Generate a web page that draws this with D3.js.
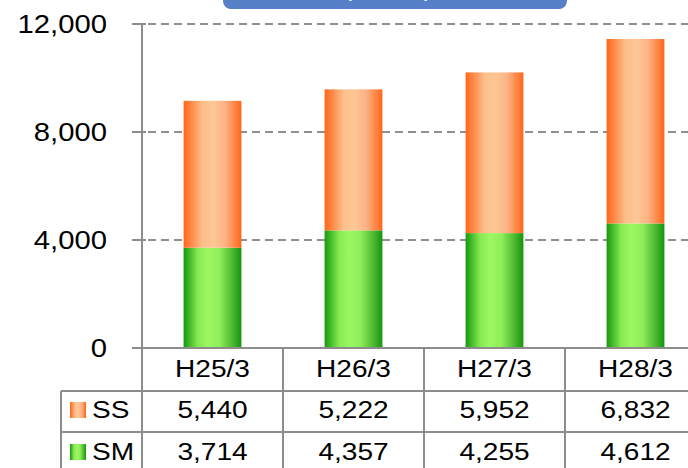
<!DOCTYPE html>
<html>
<head>
<meta charset="utf-8">
<script src="https://cdn.jsdelivr.net/npm/d3@7"></script>
<style>
  body { margin: 0; background: #fff; overflow: hidden; }
  text { font-family: "Liberation Sans", Arial, sans-serif; fill: #000; }
</style>
</head>
<body>
<script>
var categories = ["H25/3", "H26/3", "H27/3", "H28/3"];
var ssValues = [5440, 5222, 5952, 6832];
var smValues = [3714, 4357, 4255, 4612];
var yTicks = [0, 4000, 8000, 12000];
var seriesNames = ["SS", "SM"];
var titleText = "(百万円)";

var w = 688, h = 468;
var fmt = d3.format(",");
var sx = 1.17; // text in the original is stretched sideways

var svg = d3.select('body')
  .append('svg')
  .attr('width', w)
  .attr('height', h);

var defs = svg.append('defs');

// bar gradients, dark edges and light middle
var orange = defs.append('linearGradient').attr('id', 'gOrange')
  .attr('x1', '0%').attr('x2', '100%').attr('y1', '0%').attr('y2', '0%');
[[0, '#ff661a'], [0.33, '#fcbf8c'], [0.52, '#fdc795'], [0.72, '#fcb284'], [1, '#ff661a']]
  .forEach(s => orange.append('stop').attr('offset', s[0]).attr('stop-color', s[1]));

var green = defs.append('linearGradient').attr('id', 'gGreen')
  .attr('x1', '0%').attr('x2', '100%').attr('y1', '0%').attr('y2', '0%');
[[0, '#14980f'], [0.25, '#86ea52'], [0.42, '#9bf762'], [0.62, '#90ee5a'], [0.85, '#4cb730'], [1, '#12960e']]
  .forEach(s => green.append('stop').attr('offset', s[0]).attr('stop-color', s[1]));

var xScale = d3.scaleBand()
  .domain(categories)
  .range([142, 706]);

var yScale = d3.scaleLinear()
  .domain([0, 12000])
  .range([348, 24]);

var barW = xScale.bandwidth() * 0.41;

// title box, mostly off the top of the picture
svg.append('rect')
  .attr('x', 223).attr('y', -30)
  .attr('width', 344).attr('height', 39)
  .attr('rx', 8)
  .attr('fill', '#5580c8');
svg.append('text')
  .attr('x', 388).attr('y', -4)
  .attr('text-anchor', 'middle')
  .style('font-size', '24px')
  .style('fill', '#fff')
  .text(titleText);

// gridlines
svg.append('g')
  .selectAll('line')
  .data(yTicks.filter(d => d > 0))
  .enter()
  .append('line')
    .attr('x1', 148).attr('x2', w)
    .attr('y1', d => yScale(d)).attr('y2', d => yScale(d))
    .attr('stroke', '#8f8f8f')
    .attr('stroke-width', 2)
    .attr('stroke-dasharray', '8,5');

// stacked bars
var stack = categories.map((c, i) => ({cat: c, sm: smValues[i], ss: ssValues[i]}));

svg.append('g')
  .selectAll('rect')
  .data(stack)
  .enter()
  .append('rect')
    .attr('x', d => xScale(d.cat) + (xScale.bandwidth() - barW) / 2)
    .attr('y', d => yScale(d.sm))
    .attr('width', barW)
    .attr('height', d => yScale(0) - yScale(d.sm))
    .attr('fill', 'url(#gGreen)');

svg.append('g')
  .selectAll('rect')
  .data(stack)
  .enter()
  .append('rect')
    .attr('x', d => xScale(d.cat) + (xScale.bandwidth() - barW) / 2)
    .attr('y', d => yScale(d.sm + d.ss))
    .attr('width', barW)
    .attr('height', d => yScale(d.sm) - yScale(d.sm + d.ss))
    .attr('fill', 'url(#gOrange)');

// y axis
var lineColor = '#8c8c8c';
svg.append('line')
  .attr('x1', 142).attr('x2', 142)
  .attr('y1', yScale(12000)).attr('y2', h)
  .attr('stroke', lineColor).attr('stroke-width', 2);

svg.append('g')
  .selectAll('line')
  .data(yTicks)
  .enter()
  .append('line')
    .attr('x1', 132).attr('x2', 146)
    .attr('y1', d => yScale(d)).attr('y2', d => yScale(d))
    .attr('stroke', lineColor).attr('stroke-width', 2);

svg.append('g')
  .selectAll('text')
  .data(yTicks)
  .enter()
  .append('text')
    .attr('text-anchor', 'end')
    .attr('transform', d => `translate(107, ${yScale(d) + 9}) scale(${sx},1)`)
    .style('font-size', '25px')
    .text(d => fmt(d));

// data table below the axis
var rowTop = [348, 391, 432, 474];
var table = svg.append('g');

table.append('line')
  .attr('x1', 142).attr('x2', w)
  .attr('y1', rowTop[0]).attr('y2', rowTop[0])
  .attr('stroke', lineColor).attr('stroke-width', 2);

[rowTop[1], rowTop[2]].forEach(y => {
  table.append('line')
    .attr('x1', 61).attr('x2', w)
    .attr('y1', y).attr('y2', y)
    .attr('stroke', lineColor).attr('stroke-width', 2);
});

table.append('line')
  .attr('x1', 61).attr('x2', 61)
  .attr('y1', rowTop[1]).attr('y2', h)
  .attr('stroke', lineColor).attr('stroke-width', 2);

table.selectAll('.vline')
  .data(categories.slice(1))
  .enter()
  .append('line')
    .attr('class', 'vline')
    .attr('x1', d => xScale(d)).attr('x2', d => xScale(d))
    .attr('y1', rowTop[0]).attr('y2', h)
    .attr('stroke', lineColor).attr('stroke-width', 2);

var cellText = (row, vals, baseline) => {
  table.selectAll('.t' + row)
    .data(vals)
    .enter()
    .append('text')
      .attr('class', 't' + row)
      .attr('text-anchor', 'middle')
      .attr('transform', (d, i) => `translate(${xScale(categories[i]) + xScale.bandwidth() / 2}, ${baseline}) scale(${sx},1)`)
      .style('font-size', '24px')
      .text(d => d);
};

cellText('h', categories, 377);
cellText('ss', ssValues.map(fmt), 418);
cellText('sm', smValues.map(fmt), 460);

// row legends
var legendRows = [
  {name: seriesNames[0], fill: 'url(#gOrange)', top: 402, base: 418},
  {name: seriesNames[1], fill: 'url(#gGreen)', top: 444, base: 460}
];

legendRows.forEach(r => {
  table.append('rect')
    .attr('x', 70).attr('y', r.top)
    .attr('width', 16).attr('height', 16)
    .attr('fill', r.fill);
  table.append('text')
    .attr('transform', `translate(92, ${r.base}) scale(${sx},1)`)
    .style('font-size', '24px')
    .text(r.name);
});
</script>
</body>
</html>
